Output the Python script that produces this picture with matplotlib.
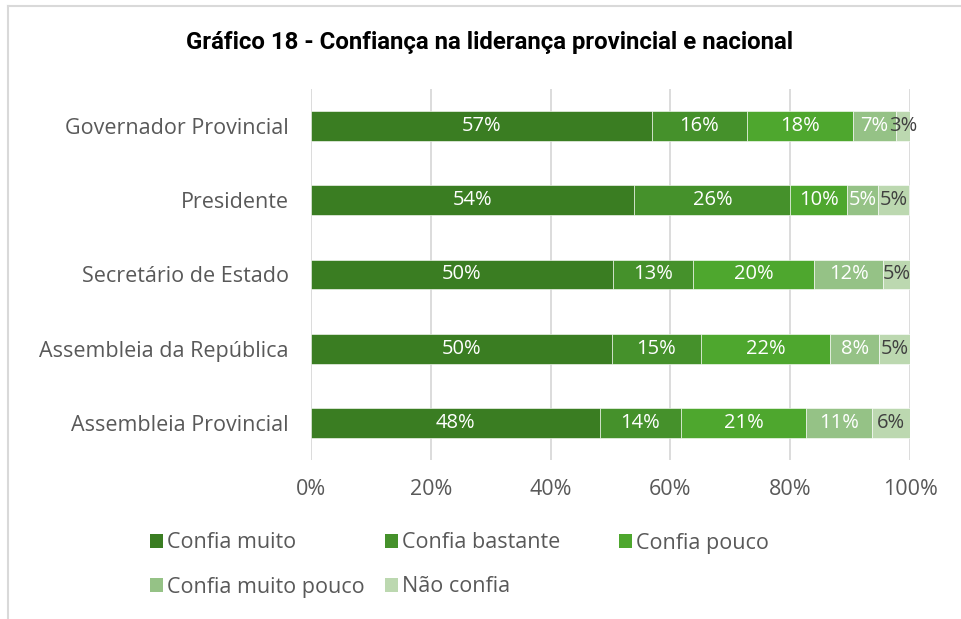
import numpy as np
import matplotlib.pyplot as plt
from matplotlib.patches import Patch
from matplotlib.lines import Line2D

plt.rcParams['font.family'] = ['Open Sans', 'DejaVu Sans']

# categories, top to bottom
categories = ['Governador Provincial', 'Presidente', 'Secretário de Estado',
              'Assembleia da República', 'Assembleia Provincial']

# shares (%)
confia_muito = [56.9, 54.0, 50.4, 50.2, 48.2]
confia_bastante = [15.9, 26.0, 13.4, 14.9, 13.6]
confia_pouco = [17.7, 9.5, 20.2, 21.6, 20.9]
confia_muito_pouco = [7.1, 5.2, 11.5, 8.1, 10.9]
nao_confia = [2.4, 5.2, 4.6, 5.2, 6.4]

# labels printed on the bars
lbl_muito = ['57%', '54%', '50%', '50%', '48%']
lbl_bastante = ['16%', '26%', '13%', '15%', '14%']
lbl_pouco = ['18%', '10%', '20%', '22%', '21%']
lbl_muito_pouco = ['7%', '5%', '12%', '8%', '11%']
lbl_nao = ['3%', '5%', '5%', '5%', '6%']

series_names = ['Confia muito', 'Confia bastante', 'Confia pouco',
                'Confia muito pouco', 'Não confia']
series = [confia_muito, confia_bastante, confia_pouco, confia_muito_pouco, nao_confia]
labels = [lbl_muito, lbl_bastante, lbl_pouco, lbl_muito_pouco, lbl_nao]
colors = ['#3A7D22', '#45912B', '#4EA72E', '#95C286', '#BCD8B0']
label_colors = ['white', 'white', 'white', 'white', '#404040']

grey = '#595959'

fig = plt.figure(figsize=(9.61, 6.19), dpi=100)
ax = fig.add_axes([311/961, 1-460/619, 599/961, 371/619])

y = np.arange(len(categories))
left = np.zeros(len(categories))
for vals, lbls, col, lc, name in zip(series, labels, colors, label_colors, series_names):
    vals = np.array(vals)
    bars = ax.barh(y, vals/100, left=left/100, height=0.4, color=col,
                   edgecolor='white', linewidth=0.4, zorder=3, label=name)
    ax.bar_label(bars, labels=lbls, label_type='center', color=lc, fontsize=14.5)
    left = left + vals

ax.set_xlim(0, 1)
ax.set_ylim(len(categories)-0.5, -0.5)
ax.set_yticks(y)
ax.set_yticklabels(categories, fontsize=15.5, color=grey)
ax.set_xticks(np.arange(0, 1.01, 0.2))
ax.set_xticklabels([f'{int(v)}%' for v in np.arange(0, 101, 20)], fontsize=15.5, color=grey)
ax.tick_params(axis='both', length=0)
ax.tick_params(axis='x', pad=14)
ax.tick_params(axis='y', pad=16)
ax.grid(axis='x', color='#D9D9D9', linewidth=1.3, zorder=0)
for s in ax.spines.values():
    s.set_visible(False)

fig.text(490/961, 1-42/619, 'Gráfico 18 - Confiança na liderança provincial e nacional',
         ha='center', va='center', fontsize=17.3, fontweight='bold', color='black',
         family=['Roboto', 'DejaVu Sans'])

# legend: one entry per slot, laid out in a 3-column grid
slots = [(150, 543), (385, 543), (619, 543), (150, 587), (385, 587)]
for (sx, sy), col, name in zip(slots, colors, series_names):
    h = Patch(facecolor=col, edgecolor='none')
    fig.legend(handles=[h], labels=[name], loc='center left',
               bbox_to_anchor=(sx/961, 1-sy/619), frameon=False,
               fontsize=15.5, labelcolor=grey, handlelength=0.6,
               handleheight=0.6, handletextpad=0.2, borderpad=0,
               borderaxespad=0)

# outer chart border (top and left edges visible)
fig.add_artist(Line2D([8/961, 1], [1-6/619, 1-6/619], color='#D9D9D9', lw=1.5))
fig.add_artist(Line2D([8/961, 8/961], [0, 1-6/619], color='#D9D9D9', lw=1.5))

fig.savefig('out.png', dpi=100)
